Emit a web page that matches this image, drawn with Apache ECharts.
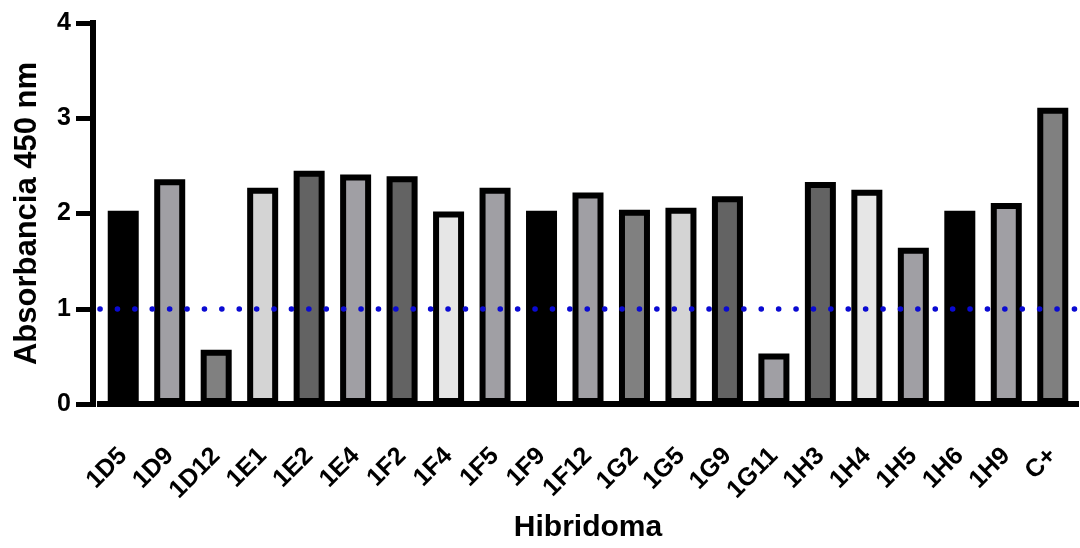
<!DOCTYPE html>
<html>
<head>
<meta charset="utf-8">
<script src="https://cdn.jsdelivr.net/npm/echarts@6/dist/echarts.min.js"></script>
<style>
html,body{margin:0;padding:0;background:#fff;}
#chart{width:1080px;height:548px;}
</style>
</head>
<body>
<div id="chart"></div>
<script>
const categories = ['1D5','1D9','1D12','1E1','1E2','1E4','1F2','1F4','1F5','1F9','1F12','1G2','1G5','1G9','1G11','1H3','1H4','1H5','1H6','1H9','C+'];
const absorbance = [2.03,2.36,0.57,2.27,2.45,2.41,2.39,2.02,2.27,2.03,2.22,2.04,2.06,2.18,0.53,2.33,2.25,1.64,2.03,2.11,3.11];
const barColors = ['#000000','#a09fa4','#808080','#d4d4d4','#636363','#a09fa4','#636363','#e6e6e6','#a09fa4','#000000','#a09fa4','#808080','#d4d4d4','#636363','#a09fa4','#636363','#e6e6e6','#a09fa4','#000000','#a09fa4','#808080'];
const yTicks = [0,1,2,3,4];
const cutoff = 1;

const FONT = 'Liberation Sans, Arial, sans-serif';
const chart = echarts.init(document.getElementById('chart'), null, {renderer:'canvas'});
chart.setOption({
  animation:false,
  backgroundColor:'#ffffff',
  grid:{left:100, right:4, top:23, bottom:138},
  xAxis:{
    type:'category',
    data:categories,
    name:'Hibridoma',
    nameLocation:'middle',
    nameGap:109,
    nameTextStyle:{fontFamily:FONT, fontWeight:'bold', fontSize:30, color:'#000'},
    axisLine:{lineStyle:{color:'#000', width:6, cap:'square'}},
    axisTick:{alignWithLabel:true, length:15, lineStyle:{color:'#000', width:6}},
    axisLabel:{rotate:45, margin:48, interval:0, fontFamily:FONT, fontWeight:'bold', fontSize:25, color:'#000'}
  },
  yAxis:{
    type:'value',
    min:yTicks[0], max:yTicks[yTicks.length-1], interval:1,
    offset:7,
    name:'Absorbancia 450 nm',
    nameLocation:'middle',
    nameGap:50,
    nameTextStyle:{fontFamily:FONT, fontWeight:'bold', fontSize:31, color:'#000'},
    axisLine:{show:true, lineStyle:{color:'#000', width:6, cap:'square'}},
    axisTick:{show:true, length:17, lineStyle:{color:'#000', width:5}},
    axisLabel:{margin:22, fontFamily:FONT, fontWeight:'bold', fontSize:25, color:'#000'},
    splitLine:{show:false}
  },
  series:[{
    type:'bar',
    data:absorbance.map((v,i)=>({value:v, itemStyle:{color:barColors[i]}})),
    barWidth:31,
    itemStyle:{borderColor:'#000', borderWidth:6},
    markLine:{
      silent:true,
      symbol:['none','none'],
      label:{show:false},
      lineStyle:{color:'#0a0ad2', width:5.5, type:[0.1,17.3], cap:'round'},
      data:[{yAxis:cutoff}]
    }
  }]
});
</script>
</body>
</html>
